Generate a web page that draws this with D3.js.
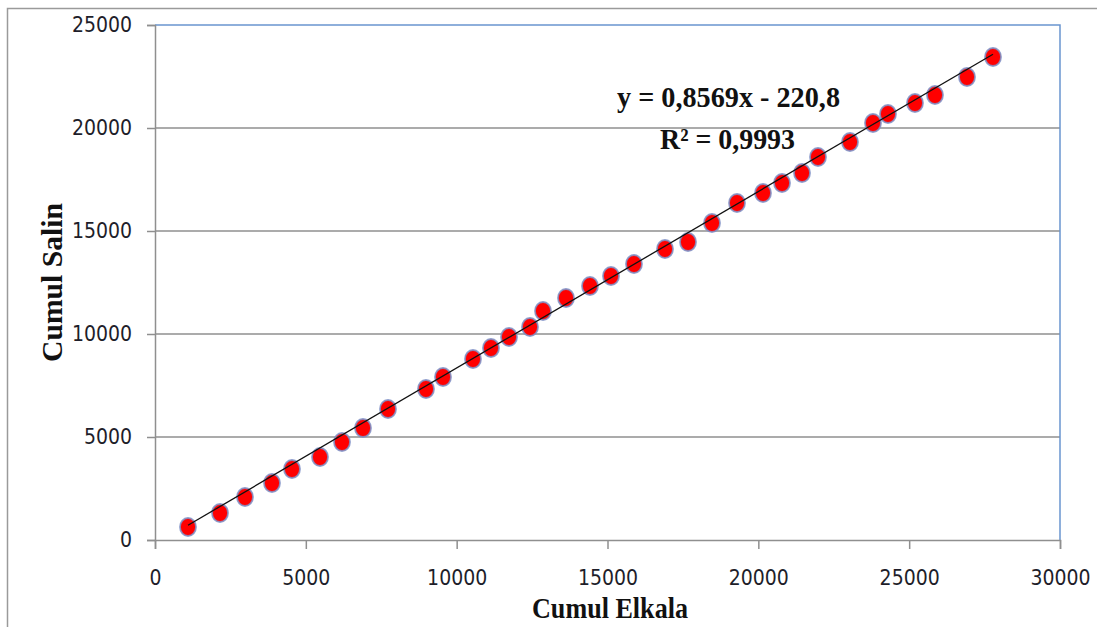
<!DOCTYPE html>
<html>
<head>
<meta charset="utf-8">
<script src="https://cdn.jsdelivr.net/npm/d3@7"></script>
<style>
html,body{margin:0;padding:0;background:#fff;}
svg{display:block;}
</style>
</head>
<body>
<svg id="chart" width="1097" height="627"></svg>
<script>
// Data
const cumulElkala = [1094, 2155, 2983, 3878, 4541, 5470, 6199, 6895, 7724, 8983, 9547,
  10541, 11138, 11735, 12431, 12862, 13624, 14420, 15116, 15878, 16906, 17669, 18464,
  19293, 20155, 20785, 21448, 21978, 23039, 23801, 24298, 25193, 25856, 26917, 27779];
const cumulSalin = [631, 1311, 2087, 2767, 3447, 4029, 4757, 5437, 6359, 7330, 7913,
  8786, 9320, 9854, 10340, 11117, 11748, 12330, 12816, 13398, 14126, 14466, 15388,
  16359, 16845, 17330, 17816, 18592, 19320, 20243, 20680, 21214, 21602, 22476, 23447];
const xTicks = [0, 5000, 10000, 15000, 20000, 25000, 30000];
const yTicks = [0, 5000, 10000, 15000, 20000, 25000];
const slope = 0.8569, intercept = -220.8;
const eqLabel = "y = 0,8569x - 220,8";
const r2Label = "R² = 0,9993";
const xTitle = "Cumul Elkala";
const yTitle = "Cumul Salin";

(function () {
const svg = d3.select("#chart");
const pLeft = 155, pRight = 1060, pTop = 25, pBottom = 540;

const x = d3.scaleLinear().domain([0, 30000]).range([pLeft, pRight]);
const y = d3.scaleLinear().domain([0, 25000]).range([pBottom, pTop]);

// outer chart border (only left/top visible)
svg.append("rect").attr("x", 7.5).attr("y", 8.5).attr("width", 1200).attr("height", 800)
  .attr("fill", "none").attr("stroke", "#9a9a9a").attr("stroke-width", 1.5);

// gridlines
svg.append("g").selectAll("line").data(yTicks.filter(d => d > 0 && d < 25000)).join("line")
  .attr("x1", pLeft).attr("x2", pRight).attr("y1", d => y(d)).attr("y2", d => y(d))
  .attr("stroke", "#8f8f8f").attr("stroke-width", 1.5);

// plot border top/right (blue)
svg.append("path")
  .attr("d", `M${pLeft},${y(25000)}H${pRight}V${pBottom}`)
  .attr("fill", "none").attr("stroke", "#6a95cf").attr("stroke-width", 1.5);

const labelFont = "'DejaVu Sans Condensed', 'DejaVu Sans', sans-serif";

// Y axis
const yAxis = d3.axisLeft(y).tickValues(yTicks).tickSize(8).tickPadding(15).tickFormat(d3.format("d"));
const gy = svg.append("g").attr("transform", `translate(${pLeft},0)`).call(yAxis);
gy.select(".domain").attr("stroke", "#8f8f8f").attr("stroke-width", 1.5);
gy.selectAll(".tick line").attr("stroke", "#8f8f8f").attr("stroke-width", 1.5);
gy.selectAll(".tick text").attr("font-family", labelFont).attr("font-size", 21).attr("fill", "#1e1e2a");

// X axis
const xAxis = d3.axisBottom(x).tickValues(xTicks).tickSize(9).tickPadding(21).tickFormat(d3.format("d"));
const gx = svg.append("g").attr("transform", `translate(0,${pBottom})`).call(xAxis);
gx.select(".domain").attr("stroke", "#8f8f8f").attr("stroke-width", 1.5);
gx.selectAll(".tick line").attr("stroke", "#8f8f8f").attr("stroke-width", 1.5);
gx.selectAll(".tick text").attr("font-family", labelFont).attr("font-size", 21).attr("fill", "#1e1e2a");

// points
const pts = cumulElkala.map((v, i) => [v, cumulSalin[i]]);
svg.append("g").selectAll("ellipse").data(pts).join("ellipse")
  .attr("cx", d => x(d[0])).attr("cy", d => y(d[1]))
  .attr("rx", 8).attr("ry", 9)
  .attr("fill", "#ff0000").attr("stroke", "#7e8fc6").attr("stroke-width", 1.8).attr("stroke-opacity", 0.85);

// trendline
const xMin = d3.min(cumulElkala), xMax = d3.max(cumulElkala);
svg.append("line")
  .attr("x1", x(xMin)).attr("y1", y(slope * xMin + intercept))
  .attr("x2", x(xMax)).attr("y2", y(slope * xMax + intercept))
  .attr("stroke", "#111").attr("stroke-width", 1.3);

const serif = "'Liberation Serif', 'Times New Roman', serif";

// equation labels
svg.append("text").attr("x", 617).attr("y", 107).text(eqLabel)
  .attr("font-family", serif).attr("font-weight", "bold").attr("font-size", 30)
  .attr("textLength", 223).attr("lengthAdjust", "spacingAndGlyphs").attr("fill", "#111");
svg.append("text").attr("x", 660).attr("y", 149).text(r2Label)
  .attr("font-family", serif).attr("font-weight", "bold").attr("font-size", 30)
  .attr("textLength", 135).attr("lengthAdjust", "spacingAndGlyphs").attr("fill", "#111");

// axis titles
svg.append("text").attr("x", 532).attr("y", 618).text(xTitle)
  .attr("font-family", serif).attr("font-weight", "bold").attr("font-size", 30)
  .attr("textLength", 156).attr("lengthAdjust", "spacingAndGlyphs").attr("fill", "#111");
svg.append("text").attr("transform", "translate(62,362) rotate(-90)").text(yTitle)
  .attr("font-family", serif).attr("font-weight", "bold").attr("font-size", 29)
  .attr("textLength", 159).attr("lengthAdjust", "spacingAndGlyphs").attr("fill", "#111");
})();
</script>
</body>
</html>
